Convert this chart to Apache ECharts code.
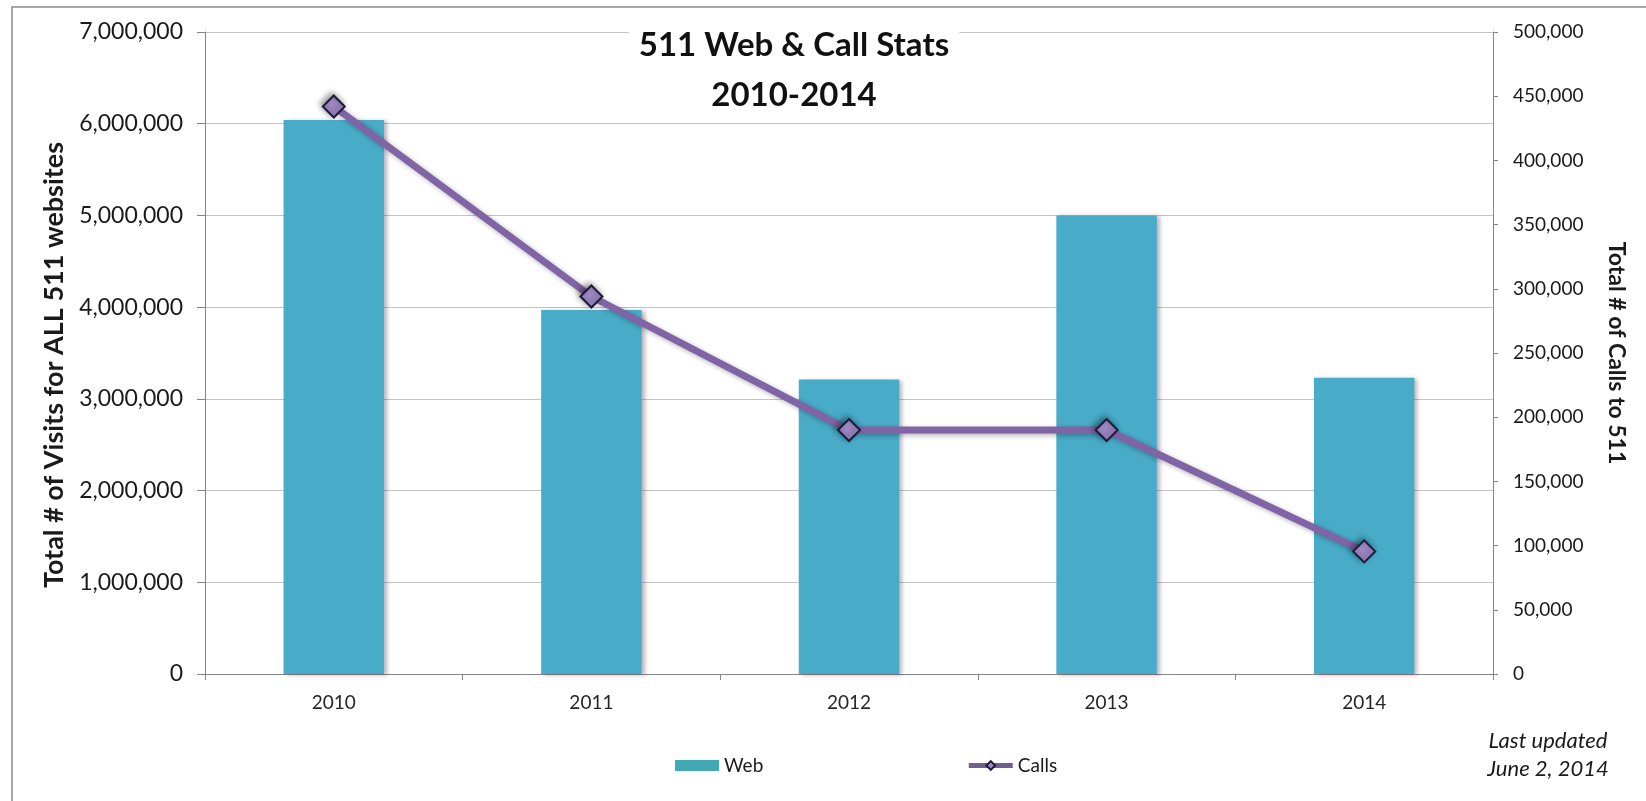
<!DOCTYPE html>
<html>
<head>
<meta charset="utf-8">
<title>511 Web &amp; Call Stats 2010-2014</title>
<script src="https://cdn.jsdelivr.net/npm/echarts@6/dist/echarts.min.js"></script>
<style>
  html, body { margin: 0; padding: 0; background: #ffffff; }
  #chart { width: 1646px; height: 801px; }
</style>
</head>
<body>
<div id="chart"></div>
<script>
// Years shown on the category axis
const years = ['2010', '2011', '2012', '2013', '2014'];
// Total visits across all 511 websites (left axis)
const webVisits = [6040000, 3970000, 3210000, 5000000, 3230000];
// Total calls to 511 (right axis)
const calls = [442000, 294000, 190000, 190000, 95500];

const FONT = 'Lato, "Open Sans", sans-serif';
const fmt = v => v.toLocaleString('en-US');

const chart = echarts.init(document.getElementById('chart'), null, { renderer: 'canvas' });

chart.setOption({
  backgroundColor: '#ffffff',
  animation: false,
  textStyle: { fontFamily: FONT },
  grid: { left: 205, right: 153, top: 32, bottom: 127 },
  legend: {
    left: 670,
    top: 751,
    itemWidth: 44,
    itemHeight: 11,
    itemGap: 203,
    textStyle: { fontFamily: FONT, fontSize: 19, color: '#1a1a1a' },
    data: [
      { name: 'Web', icon: 'rect', itemStyle: { color: '#42a9b4' } },
      { name: 'Calls', lineStyle: { width: 5, color: '#6f5f93' } }
    ]
  },
  xAxis: {
    type: 'category',
    data: years,
    axisLine: { lineStyle: { color: '#868686', width: 1 } },
    axisTick: { show: true, alignWithLabel: false, length: 6, lineStyle: { color: '#868686' } },
    axisLabel: { fontFamily: FONT, fontSize: 19, color: '#262626', margin: 19 }
  },
  yAxis: [
    {
      type: 'value',
      min: 0,
      max: 7000000,
      interval: 1000000,
      name: 'Total # of Visits for ALL 511 websites',
      nameLocation: 'middle',
      nameGap: 137,
      nameTextStyle: {
        fontFamily: FONT, fontSize: 27, fontWeight: 'bold', color: '#1a1a1a',
        padding: [0, 24, 0, 0]
      },
      axisLine: { show: true, lineStyle: { color: '#868686' } },
      axisTick: { show: true, length: 8, lineStyle: { color: '#868686' } },
      splitLine: { show: true, lineStyle: { color: '#c4c4c4', width: 1 } },
      axisLabel: { fontFamily: FONT, fontSize: 23, color: '#1a1a1a', margin: 22, formatter: fmt }
    },
    {
      type: 'value',
      min: 0,
      max: 500000,
      interval: 50000,
      position: 'right',
      name: 'Total # of Calls to 511',
      nameLocation: 'middle',
      nameGap: 112,
      nameRotate: -90,
      nameTextStyle: { fontFamily: FONT, fontSize: 23, fontWeight: 'bold', color: '#1a1a1a' },
      axisLine: { show: true, lineStyle: { color: '#868686' } },
      axisTick: { show: true, length: 5, lineStyle: { color: '#868686' } },
      splitLine: { show: false },
      axisLabel: { fontFamily: FONT, fontSize: 19, color: '#1a1a1a', margin: 20, formatter: fmt }
    }
  ],
  series: [
    {
      name: 'Web',
      type: 'bar',
      yAxisIndex: 0,
      data: webVisits,
      barWidth: '39%',
      itemStyle: {
        color: '#48abc7',
        shadowColor: 'rgba(70,40,70,0.35)',
        shadowBlur: 4,
        shadowOffsetX: 3,
        shadowOffsetY: 1
      }
    },
    {
      name: 'Calls',
      type: 'line',
      yAxisIndex: 1,
      data: calls,
      symbol: 'diamond',
      symbolSize: 22,
      lineStyle: {
        color: '#8064a6',
        width: 7,
        shadowColor: 'rgba(0,0,0,0.3)',
        shadowBlur: 5,
        shadowOffsetX: 2,
        shadowOffsetY: 2
      },
      itemStyle: {
        color: '#a08ac7',
        borderColor: '#1c1c3a',
        borderWidth: 2,
        shadowColor: 'rgba(0,0,0,0.4)',
        shadowBlur: 6,
        shadowOffsetX: -2,
        shadowOffsetY: -2
      },
      z: 5
    }
  ],
  graphic: [
    {
      type: 'rect',
      silent: true,
      z: -10,
      shape: { x: 12, y: 7, width: 1700, height: 820 },
      style: { fill: 'none', stroke: '#8a8a8a', lineWidth: 1.5 }
    },
    {
      type: 'text',
      z: 100,
      x: 794,
      y: 20,
      style: {
        text: '511 Web & Call Stats\n2010-2014',
        fontFamily: FONT,
        fontSize: 33,
        fontWeight: 'bold',
        lineHeight: 50,
        fill: '#111111',
        align: 'center',
        verticalAlign: 'top',
        backgroundColor: '#ffffff',
        padding: [0, 10, 0, 10]
      }
    },
    {
      type: 'text',
      z: 100,
      x: 1548,
      y: 727,
      style: {
        text: 'Last updated\nJune 2, 2014',
        fontFamily: FONT,
        fontSize: 22,
        fontStyle: 'italic',
        lineHeight: 28,
        fill: '#1a1a1a',
        align: 'center',
        verticalAlign: 'top'
      }
    }
  ]
});
</script>
</body>
</html>
